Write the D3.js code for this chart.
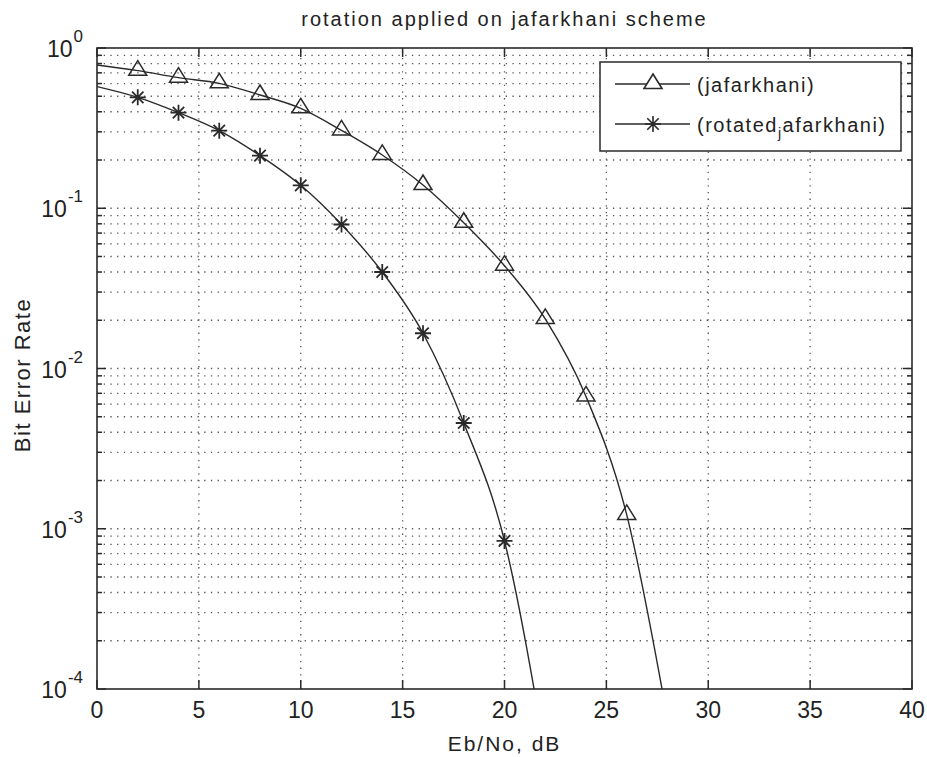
<!DOCTYPE html>
<html>
<head>
<meta charset="utf-8">
<script src="https://cdn.jsdelivr.net/npm/d3@7"></script>
<style>
  body { margin: 0; background: #fff; }
  text { font-family: 'Liberation Sans', Arial, sans-serif; fill: #222; }
</style>
</head>
<body>
<div id="chart"></div>
<script>
const width = 927;
const height = 757;
const margin = { top: 48, right: 15, bottom: 68, left: 97 };

// marker points (Eb/No in dB, BER)
const snrJafar = [2, 4, 6, 8, 10, 12, 14, 16, 18, 20, 22, 24, 26];
const berJafar = [0.722, 0.653, 0.602, 0.509, 0.420, 0.306, 0.215, 0.1397, 0.0812, 0.0438, 0.0204, 0.00669, 0.00122];
const snrRot = [2, 4, 6, 8, 10, 12, 14, 16, 18, 20];
const berRot = [0.492, 0.395, 0.305, 0.213, 0.139, 0.0792, 0.040, 0.0166, 0.00457, 0.00084];

// curve points (the line starts at 0 dB and runs below the axis)
const curveSnrJafar = [0, 2, 4, 6, 8, 10, 12, 14, 16, 18, 20, 22, 24, 26, 28];
const curveBerJafar = [0.783, 0.722, 0.653, 0.602, 0.509, 0.420, 0.306, 0.215, 0.1397, 0.0812, 0.0438, 0.0204, 0.00669, 0.00122, 0.000065];
const curveSnrRot = [0, 2, 4, 6, 8, 10, 12, 14, 16, 18, 20, 22];
const curveBerRot = [0.574, 0.492, 0.395, 0.305, 0.213, 0.139, 0.0792, 0.040, 0.0166, 0.00457, 0.00084, 0.00004];

const xTicks = [0, 5, 10, 15, 20, 25, 30, 35, 40];
const yExponents = [0, -1, -2, -3, -4];
const seriesNames = ['(jafarkhani)', '(rotated_jafarkhani)'];
const titleText = 'rotation applied on jafarkhani scheme';
const xLabel = 'Eb/No, dB';
const yLabel = 'Bit Error Rate';

const svg = d3.select('#chart')
  .append('svg')
  .attr('width', width)
  .attr('height', height);

const x0 = margin.left, x1 = width - margin.right;
const y0 = height - margin.bottom, y1 = margin.top;

const x = d3.scaleLinear().domain([0, 40]).range([x0, x1]);
const y = d3.scaleLog().domain([1e-4, 1]).range([y0, y1]);

const ink = '#2a2a2a';

// grid
const minorVals = [];
yExponents.slice(1).forEach(e => {
  for (let k = 2; k <= 9; k++) minorVals.push(k * Math.pow(10, e));
});
const majorVals = yExponents.map(e => Math.pow(10, e));

const grid = svg.append('g')
  .attr('stroke', '#555')
  .attr('stroke-width', 1.3)
  .attr('stroke-dasharray', '1.3,5.4');

grid.selectAll('.hg')
  .data(majorVals.concat(minorVals).filter(v => v < 1 && v > 1e-4))
  .enter()
  .append('line')
  .attr('x1', x0).attr('x2', x1)
  .attr('y1', d => y(d)).attr('y2', d => y(d));

grid.selectAll('.vg')
  .data(xTicks.filter(t => t > 0 && t < 40))
  .enter()
  .append('line')
  .attr('y1', y0).attr('y2', y1)
  .attr('x1', d => x(d)).attr('x2', d => x(d));

// ticks
const ticks = svg.append('g').attr('stroke', ink).attr('stroke-width', 1.5);
xTicks.forEach(t => {
  ticks.append('line').attr('x1', x(t)).attr('x2', x(t)).attr('y1', y0).attr('y2', y0 - 9);
  ticks.append('line').attr('x1', x(t)).attr('x2', x(t)).attr('y1', y1).attr('y2', y1 + 9);
});
majorVals.forEach(v => {
  ticks.append('line').attr('x1', x0).attr('x2', x0 + 9).attr('y1', y(v)).attr('y2', y(v));
  ticks.append('line').attr('x1', x1).attr('x2', x1 - 9).attr('y1', y(v)).attr('y2', y(v));
});
minorVals.forEach(v => {
  ticks.append('line').attr('x1', x0).attr('x2', x0 + 5).attr('y1', y(v)).attr('y2', y(v));
  ticks.append('line').attr('x1', x1).attr('x2', x1 - 5).attr('y1', y(v)).attr('y2', y(v));
});

// curves
svg.append('clipPath').attr('id', 'clip')
  .append('rect').attr('x', x0).attr('y', y1).attr('width', x1 - x0).attr('height', y0 - y1);

const line = d3.line()
  .x(d => x(d[0]))
  .y(d => y(d[1]))
  .curve(d3.curveMonotoneX);

const curves = svg.append('g').attr('clip-path', 'url(#clip)')
  .attr('fill', 'none').attr('stroke', ink).attr('stroke-width', 1.4);

curves.append('path').attr('d', line(d3.zip(curveSnrJafar, curveBerJafar)));
curves.append('path').attr('d', line(d3.zip(curveSnrRot, curveBerRot)));

const triPath = 'M0,-10 L9,4.5 L-9,4.5 Z';
const starPath = 'M-8,0 L8,0 M0,-8 L0,8 M-5.7,-5.7 L5.7,5.7 M-5.7,5.7 L5.7,-5.7';

svg.append('g').selectAll('path')
  .data(d3.zip(snrJafar, berJafar))
  .enter()
  .append('path')
  .attr('transform', d => `translate(${x(d[0])},${y(d[1])})`)
  .attr('d', triPath)
  .attr('fill', 'none').attr('stroke', ink).attr('stroke-width', 1.5);

svg.append('g').selectAll('path')
  .data(d3.zip(snrRot, berRot))
  .enter()
  .append('path')
  .attr('transform', d => `translate(${x(d[0])},${y(d[1])})`)
  .attr('d', starPath)
  .attr('fill', 'none').attr('stroke', ink).attr('stroke-width', 1.8);

// axis box
svg.append('rect')
  .attr('x', x0).attr('y', y1).attr('width', x1 - x0).attr('height', y0 - y1)
  .attr('fill', 'none').attr('stroke', ink).attr('stroke-width', 1.6);

// tick labels
svg.append('g').selectAll('text')
  .data(xTicks)
  .enter()
  .append('text')
  .attr('x', d => x(d))
  .attr('y', y0 + 29)
  .attr('text-anchor', 'middle')
  .style('font-size', '23px')
  .text(d => d);

yExponents.forEach(e => {
  const t = svg.append('text')
    .attr('x', x0 - 14)
    .attr('y', y(Math.pow(10, e)) + 9)
    .attr('text-anchor', 'end')
    .style('font-size', '23px');
  t.append('tspan').text('10');
  t.append('tspan').attr('dy', -15).attr('dx', 1).style('font-size', '17px').text(e);
});

// title and labels
svg.append('text')
  .attr('x', (x0 + x1) / 2)
  .attr('y', 26)
  .attr('text-anchor', 'middle')
  .style('font-size', '20px')
  .style('letter-spacing', '2px')
  .text(titleText);

svg.append('text')
  .attr('x', (x0 + x1) / 2)
  .attr('y', 751)
  .attr('text-anchor', 'middle')
  .style('font-size', '21px')
  .style('letter-spacing', '2px')
  .text(xLabel);

svg.append('text')
  .attr('transform', 'rotate(-90)')
  .attr('x', -375)
  .attr('y', 30)
  .attr('text-anchor', 'middle')
  .style('font-size', '22px')
  .style('letter-spacing', '1.5px')
  .text(yLabel);

// legend
const legend = svg.append('g').attr('transform', 'translate(600, 62)');
legend.append('rect')
  .attr('width', 301).attr('height', 89)
  .attr('fill', '#fff').attr('stroke', ink).attr('stroke-width', 1.5);

const markers = [triPath, starPath];
seriesNames.forEach((name, i) => {
  const row = legend.append('g').attr('transform', `translate(0, ${22 + i * 40})`);
  row.append('line').attr('x1', 15).attr('x2', 90).attr('y1', 0).attr('y2', 0)
    .attr('stroke', ink).attr('stroke-width', 1.4);
  row.append('path').attr('d', markers[i]).attr('transform', 'translate(53,0)')
    .attr('fill', i === 0 ? '#fff' : 'none').attr('stroke', ink).attr('stroke-width', 1.6);
  const t = row.append('text')
    .attr('x', 97).attr('y', 8)
    .style('font-size', '20px')
    .style('letter-spacing', '1.5px');
  const parts = name.split('_');
  t.append('tspan').text(parts[0]);
  if (parts[1]) {
    t.append('tspan').attr('dy', 6).style('font-size', '14px').text(parts[1][0]);
    t.append('tspan').attr('dy', -6).text(parts[1].slice(1));
  }
});
</script>
</body>
</html>
